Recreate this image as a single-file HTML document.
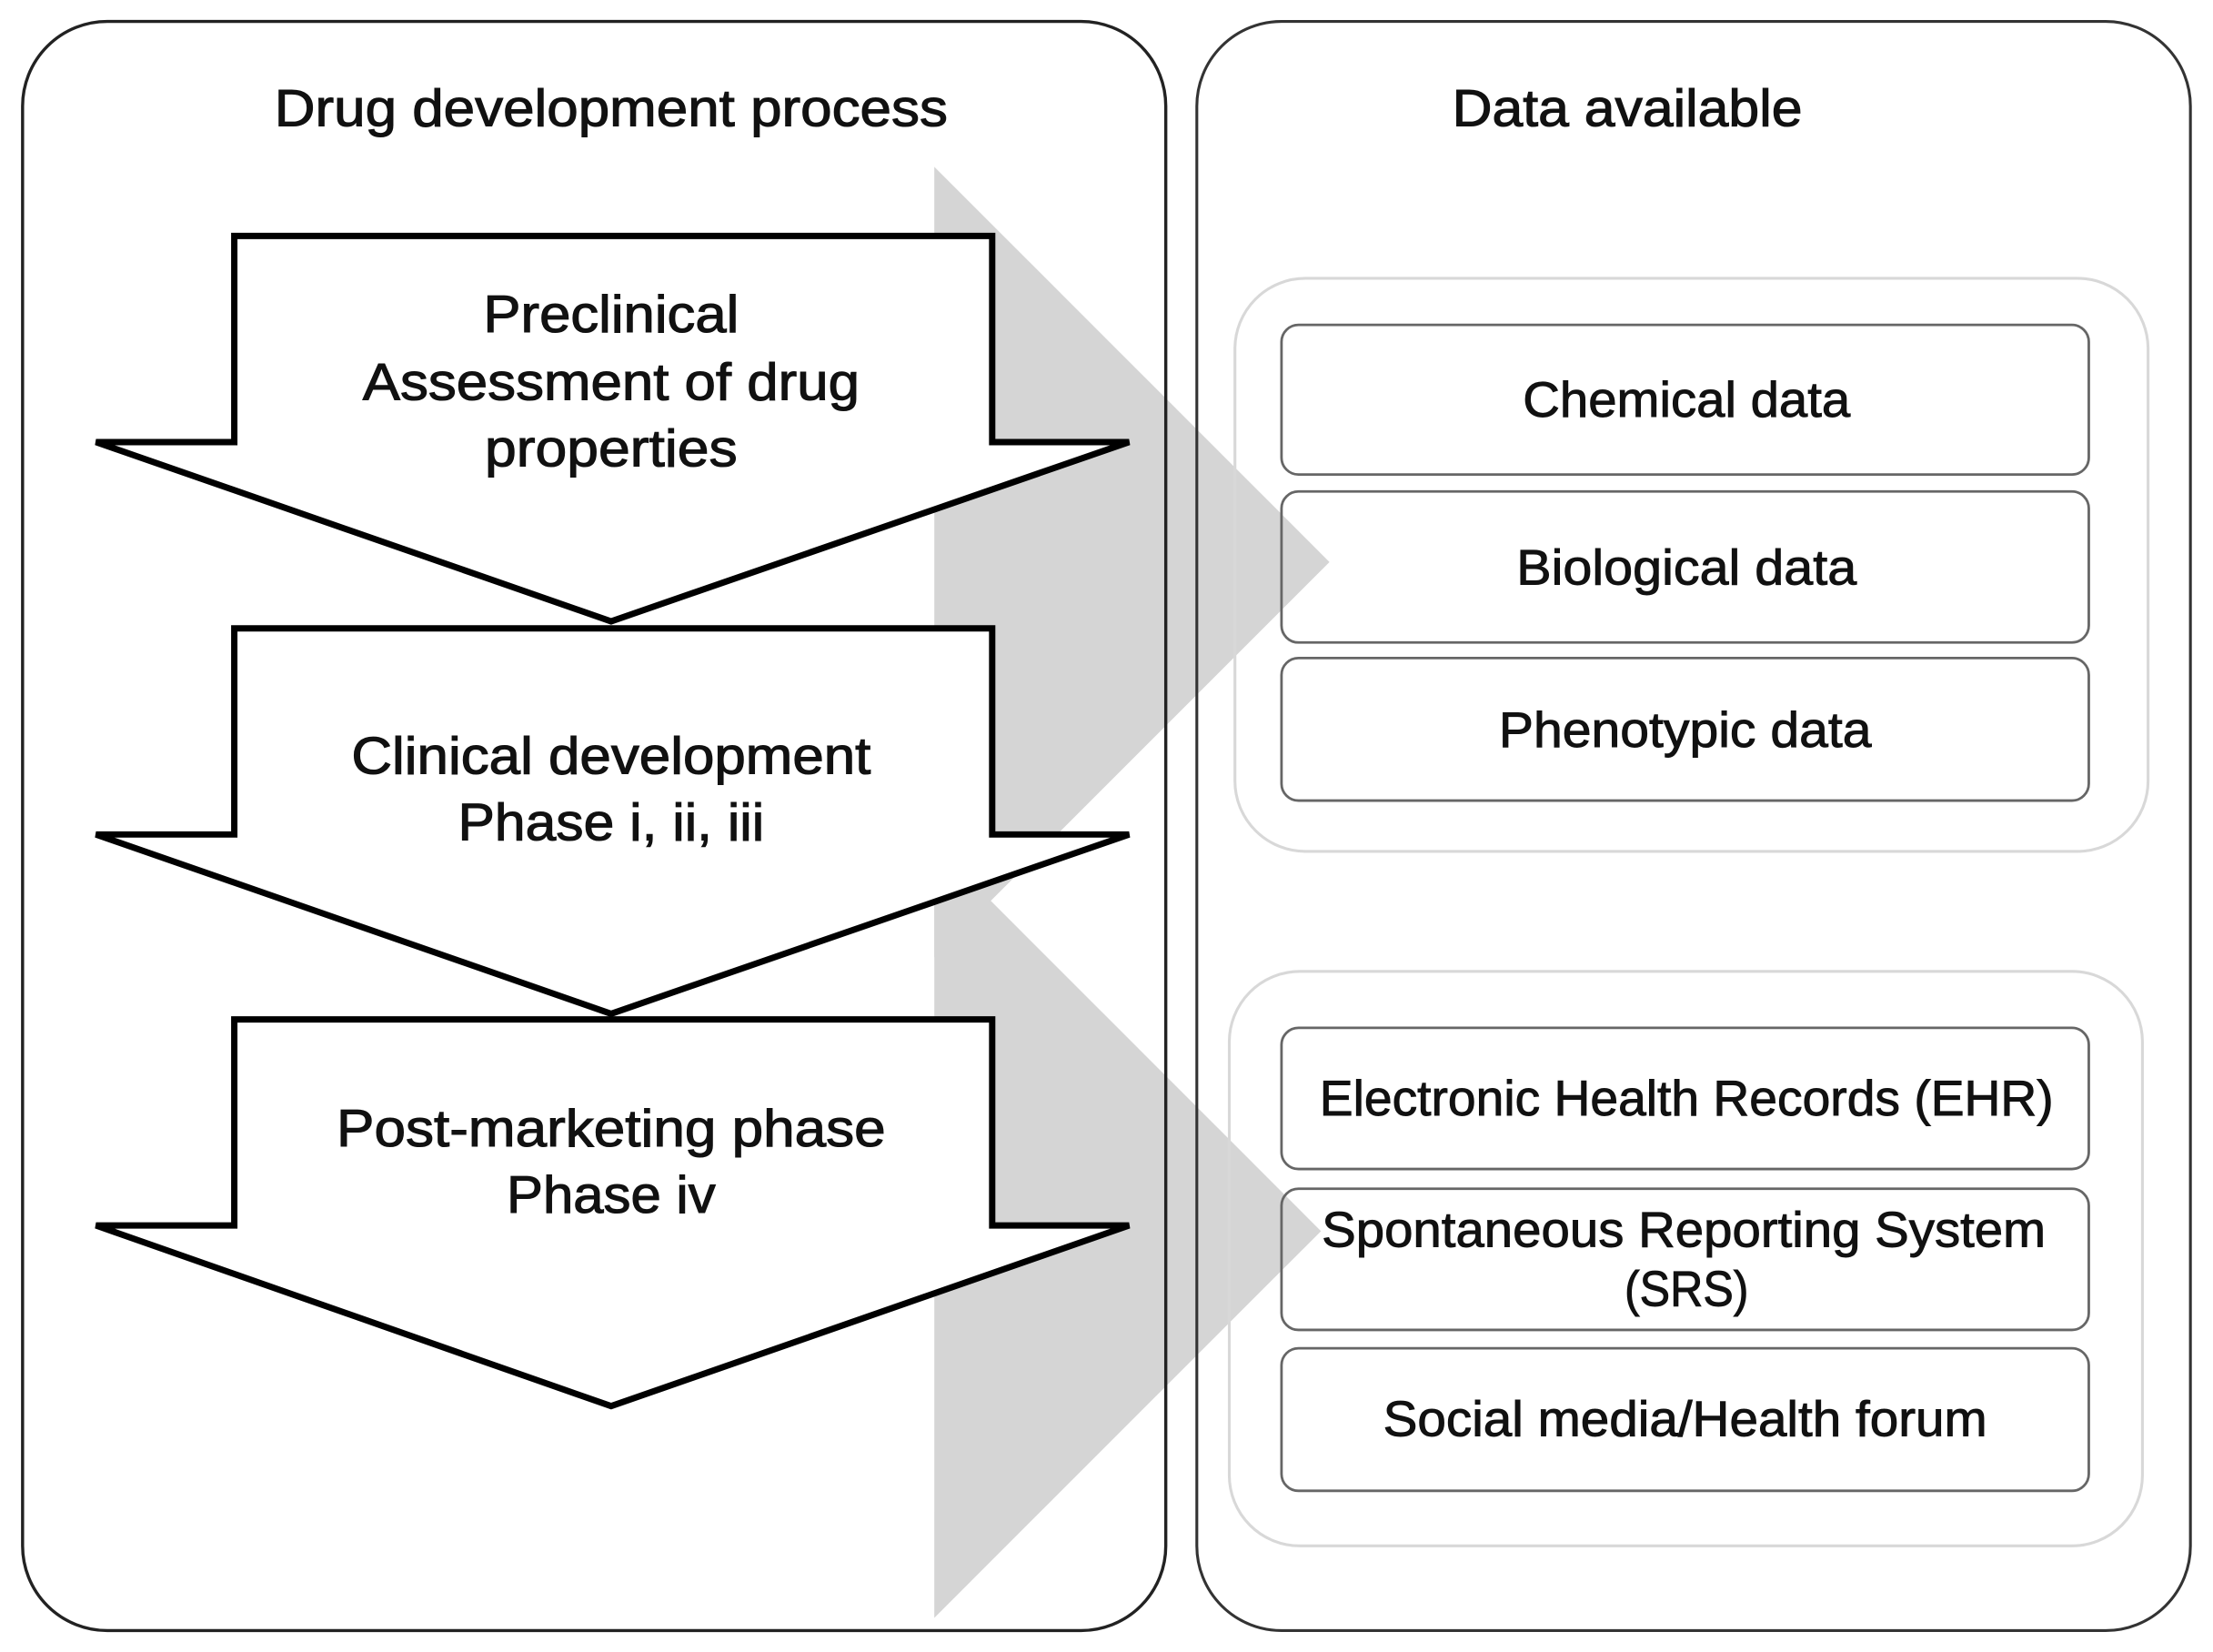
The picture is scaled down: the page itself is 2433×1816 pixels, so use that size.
<!DOCTYPE html>
<html><head><meta charset="utf-8"><style>html,body{margin:0;padding:0;background:#fff}svg{display:block}</style></head>
<body>
<svg width="2433" height="1816" viewBox="0 0 1568 1170" xmlns="http://www.w3.org/2000/svg" font-family="Liberation Sans, Arial, sans-serif">
<rect width="1568" height="1170" fill="#fff"/>
<rect x="16" y="15" width="810" height="1140" rx="60" fill="#fff"/>
<rect x="848" y="15" width="704" height="1140" rx="60" fill="#fff"/>
<polygon points="662,118 942,398 662,678" fill="#d5d5d5"/>
<polygon points="662,598 936,872 662,1146" fill="#d5d5d5"/>
<rect x="16" y="15" width="810" height="1140" rx="60" fill="none" stroke="#222" stroke-width="2.2"/>
<rect x="848" y="15" width="704" height="1140" rx="60" fill="none" stroke="#333" stroke-width="2"/>
<g font-size="37" text-anchor="middle" fill="#111" stroke="#111" stroke-width="0.7" lengthAdjust="spacingAndGlyphs">
<text x="433" y="89" textLength="477" lengthAdjust="spacingAndGlyphs">Drug development process</text>
<text x="1153" y="89" textLength="248" lengthAdjust="spacingAndGlyphs">Data available</text>
</g>
<g fill="#fff" stroke="#000" stroke-width="4.5" stroke-linejoin="miter">
<polygon points="166,167 703,167 703,313 800,313 433,440 68,313 166,313"/>
<polygon points="166,445 703,445 703,591 800,591 433,718 68,591 166,591"/>
<polygon points="166,722 703,722 703,868 800,868 433,996 68,868 166,868"/>
</g>
<g font-size="37" text-anchor="middle" fill="#111" stroke="#111" stroke-width="0.7">
<text x="433" y="235" textLength="181" lengthAdjust="spacingAndGlyphs">Preclinical</text>
<text x="433" y="283" textLength="352" lengthAdjust="spacingAndGlyphs">Assessment of drug</text>
<text x="433" y="330" textLength="179" lengthAdjust="spacingAndGlyphs">properties</text>
<text x="433" y="548" textLength="368" lengthAdjust="spacingAndGlyphs">Clinical development</text>
<text x="433" y="595" textLength="217" lengthAdjust="spacingAndGlyphs">Phase i, ii, iii</text>
<text x="433" y="812" textLength="389" lengthAdjust="spacingAndGlyphs">Post-marketing phase</text>
<text x="433" y="859" textLength="148" lengthAdjust="spacingAndGlyphs">Phase iv</text>
</g>
<g fill="none" stroke="#d8d8d8" stroke-width="2">
<rect x="875" y="197" width="647" height="406" rx="50"/>
<rect x="871" y="688" width="647" height="407" rx="50"/>
</g>
<g fill="none" stroke="#666" stroke-width="1.8">
<rect x="908" y="230" width="572" height="106" rx="12"/>
<rect x="908" y="348" width="572" height="107" rx="12"/>
<rect x="908" y="466" width="572" height="101" rx="12"/>
<rect x="908" y="728" width="572" height="100" rx="12"/>
<rect x="908" y="842" width="572" height="100" rx="12"/>
<rect x="908" y="955" width="572" height="101" rx="12"/>
</g>
<g font-size="35" text-anchor="middle" fill="#111" stroke="#111" stroke-width="0.6">
<text x="1195" y="295" textLength="232" lengthAdjust="spacingAndGlyphs">Chemical data</text>
<text x="1195" y="414" textLength="241" lengthAdjust="spacingAndGlyphs">Biological data</text>
<text x="1194" y="529" textLength="264" lengthAdjust="spacingAndGlyphs">Phenotypic data</text>
<text x="1195" y="790" textLength="520" lengthAdjust="spacingAndGlyphs">Electronic Health Records (EHR)</text>
<text x="1193" y="883" textLength="513" lengthAdjust="spacingAndGlyphs">Spontaneous Reporting System</text>
<text x="1195" y="925" textLength="88" lengthAdjust="spacingAndGlyphs">(SRS)</text>
<text x="1194" y="1017" textLength="428" lengthAdjust="spacingAndGlyphs">Social media/Health forum</text>
</g>
</svg>
</body></html>
